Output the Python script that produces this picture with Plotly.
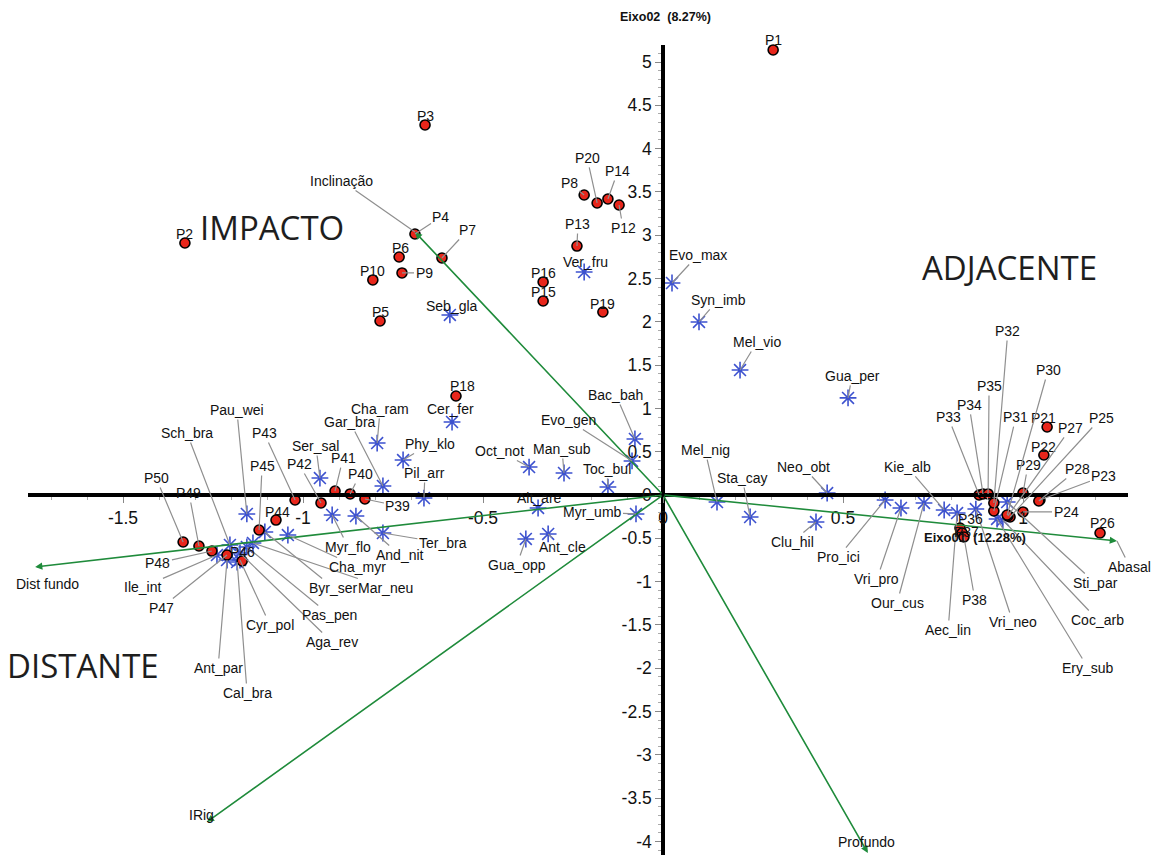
import plotly.graph_objects as go

# ---------------- data (ordination scores) ----------------
site_names = ["P1","P2","P3","P4","P5","P6","P7","P8","P9","P10","P12","P13","P14","P15","P16",
              "P18","P19","P20","P21","P22","P23","P24","P25","P26","P27","P28","P29","P30",
              "P31","P32","P33","P34","P35","P36","P37","P38","P39","P40","P41","P42","P43",
              "P44","P45","P46","P47","P48","P49","P50"]
site_x = [0.306,-1.328,-0.661,-0.689,-0.786,-0.733,-0.614,-0.219,-0.725,-0.806,-0.122,-0.239,-0.153,-0.333,-0.333,
          -0.575,-0.167,-0.183,1.067,1.058,1.047,1.000,0.964,1.214,0.958,1.044,1.000,0.956,
          0.919,0.919,0.878,0.889,0.903,0.825,0.831,0.836,-0.828,-0.869,-0.911,-0.950,-1.022,
          -1.075,-1.122,-1.169,-1.211,-1.253,-1.289,-1.333]
site_y = [5.139,2.910,4.273,3.014,2.009,2.748,2.737,3.464,2.564,2.483,3.349,2.875,3.418,2.240,2.460,
          1.143,2.113,3.372,0.785,0.462,-0.058,-0.196,-0.254,-0.439,-0.242,-0.069,0.023,-0.231,
          -0.185,-0.092,0.000,0.012,0.012,-0.381,-0.439,-0.485,-0.046,0.012,0.046,-0.092,-0.058,
          -0.289,-0.404,-0.762,-0.693,-0.647,-0.589,-0.543]

species_names = ["Seb_gla","Ver_fru","Evo_max","Syn_imb","Mel_vio","Gua_per","Cer_fer","Bac_bah","Evo_gen",
                 "Oct_not","Man_sub","Toc_bul","Alt_are","Myr_umb","Gua_opp","Ant_cle","Mel_nig","Sta_cay",
                 "Neo_obt","Clu_hil","Pro_ici","Vri_pro","Our_cus","Kie_alb","Aec_lin","Vri_neo","Sti_par",
                 "Coc_arb","Ery_sub","Pau_wei","Sch_bra","Ile_int","Ant_par","Cal_bra","Cyr_pol","Aga_rev",
                 "Pas_pen","Mar_neu","Byr_ser","Cha_myr","Myr_flo","And_nit","Ter_bra","Ser_sal","Gar_bra",
                 "Cha_ram","Phy_klo","Pil_arr"]
species_x = [-0.592,-0.219,0.025,0.100,0.214,0.514,-0.586,-0.078,-0.086,
             -0.372,-0.275,-0.153,-0.347,-0.075,-0.381,-0.319,0.150,0.242,
             0.456,0.425,0.617,0.661,0.725,0.781,0.817,0.869,0.956,
             0.944,0.928,-1.156,-1.203,-1.239,-1.211,-1.183,-1.175,-1.175,
             -1.156,-1.139,-1.106,-1.042,-0.919,-0.853,-0.778,-0.953,-0.778,
             -0.794,-0.722,-0.664]
species_y = [2.079,2.575,2.448,1.998,1.443,1.121,0.843,0.647,0.393,
             0.323,0.254,0.092,-0.150,-0.219,-0.508,-0.450,-0.081,-0.254,
             0.023,-0.312,-0.058,-0.150,-0.092,-0.173,-0.208,-0.162,-0.081,
             -0.289,-0.277,-0.219,-0.577,-0.693,-0.751,-0.774,-0.751,-0.670,
             -0.600,-0.554,-0.427,-0.462,-0.231,-0.243,-0.439,0.196,0.104,
             0.600,0.404,-0.035]

env_names = ["Inclinação","Dist fundo","IRig","Profundo","Abasal"]
env_x = [-0.689,-1.744,-1.267,0.569,1.261]
env_y = [3.037,-0.831,-3.776,-4.134,-0.531]

x_tick_vals = [-1.5,-1,-0.5,0,0.5,1]
x_tick_text = ["-1.5","-1","-0.5","0","0.5","1"]
y_tick_vals = [-4,-3.5,-3,-2.5,-2,-1.5,-1,-0.5,0,0.5,1,1.5,2,2.5,3,3.5,4,4.5,5]
y_tick_text = ["-4","-3.5","-3","-2.5","-2","-1.5","-1","-0.5","0","0.5","1","1.5","2","2.5","3","3.5","4","4.5","5"]

x_title = "Eixo01  (12.28%)"
y_title = "Eixo02  (8.27%)"
group_labels = ["IMPACTO", "ADJACENTE", "DISTANTE"]

# ---------------- layout (label offsets in pixels: dx right, dy down) ----------------
site_offsets = {
    "P1":(0,-10),"P2":(0,-9),"P3":(0,-9),"P4":(26,-17),"P5":(0,-9),"P6":(1,-9),"P7":(26,-28),
    "P8":(-15,-12),"P9":(22,0),"P10":(0,-9),"P12":(4,23),"P13":(1,-22),"P14":(10,-28),"P15":(0,-9),
    "P16":(0,-9),"P18":(6,-10),"P19":(0,-8),"P20":(-10,-45),"P21":(-4,-9),"P22":(0,-8),
    "P23":(64,-24),"P24":(43,0),"P25":(91,-99),"P26":(2,-10),"P27":(63,-88),"P28":(39,-32),
    "P29":(5,-28),"P30":(41,-145),"P31":(22,-94),"P32":(14,-172),"P33":(-31,-78),"P34":(-14,-89),
    "P35":(1,-108),"P36":(10,-9),"P37":(4,-1),"P38":(11,63),"P39":(33,7),"P40":(10,-20),
    "P41":(8,-33),"P42":(-22,-39),"P43":(-31,-67),"P44":(1,-8),"P45":(3,-64),"P46":(0,-9),
    "P47":(-66,53),"P48":(-54,12),"P49":(-10,-53),"P50":(-27,-64),
}
species_offsets = {
    "Seb_gla":(2,-9),"Ver_fru":(1,-10),"Evo_max":(26,-28),"Syn_imb":(19,-22),"Mel_vio":(17,-28),
    "Gua_per":(4,-22),"Cer_fer":(-2,-13),"Bac_bah":(-19,-44),"Evo_gen":(-64,-41),"Oct_not":(-30,-16),
    "Man_sub":(-2,-24),"Toc_bul":(-1,-18),"Alt_are":(1,-10),"Myr_umb":(-44,-2),"Gua_opp":(-9,26),
    "Ant_cle":(14,13),"Mel_nig":(-12,-52),"Sta_cay":(-8,-39),"Neo_obt":(-24,-26),"Clu_hil":(-24,20),
    "Pro_ici":(-47,57),"Vri_pro":(-24,71),"Our_cus":(-27,100),"Kie_alb":(-37,-43),"Aec_lin":(-9,117),
    "Vri_neo":(37,113),"Sti_par":(88,81),"Coc_arb":(95,100),"Ery_sub":(91,149),"Pau_wei":(-10,-104),
    "Sch_bra":(-43,-112),"Ile_int":(-74,32),"Ant_par":(-9,108),"Cal_bra":(10,131),"Cyr_pol":(30,65),
    "Aga_rev":(92,89),"Pas_pen":(83,68),"Mar_neu":(133,45),"Byr_ser":(69,56),"Cha_myr":(70,32),
    "Myr_flo":(16,32),"And_nit":(44,39),"Ter_bra":(60,10),"Ser_sal":(-4,-32),"Gar_bra":(-33,-64),
    "Cha_ram":(3,-34),"Phy_klo":(27,-16),"Pil_arr":(1,-25),
}
env_offsets = {"Inclinação":(-73,-51,True),"Dist fundo":(12,17,False),"IRig":(-5,-7,False),
               "Profundo":(-1,-11,False),"Abasal":(13,26,True)}
group_pos = [(272, 228), (1009, 268), (83, 665)]

W, H = 1165, 855
X0, X1 = 28, 1128           # pixel extent of horizontal axis line
Y0, Y1 = 45, 855            # pixel extent of vertical axis line
OX, OY = 663, 495           # pixel of the origin
SX, SY = 360.0, 86.6        # pixels per unit

FONT = "Liberation Sans, Arial, sans-serif"
LEADER = "#8f8f8f"
GREEN = "#1f8b3b"
RED = "#e8261b"
BLUE = "#3d52cf"
TXT = "#111111"
LBL = 14

fig = go.Figure()

fig.add_trace(go.Scatter(
    x=species_x, y=species_y, mode="markers", cliponaxis=False, hoverinfo="text", text=species_names,
    marker=dict(symbol="asterisk-open", size=14, color=BLUE, line=dict(color=BLUE, width=1.6)),
    showlegend=False))
fig.add_trace(go.Scatter(
    x=site_x, y=site_y, mode="markers", cliponaxis=False, hoverinfo="text", text=site_names,
    marker=dict(symbol="circle", size=10, color=RED, line=dict(color="black", width=1.6)),
    showlegend=False))

annotations = []

def label(name, x, y, dx, dy, arrow=None):
    if arrow is None:
        arrow = (dx * dx + dy * dy) ** 0.5 > 14
    if arrow:
        annotations.append(dict(x=x, y=y, xref="x", yref="y", text=name, showarrow=True,
                                ax=dx, ay=dy, arrowhead=0, arrowwidth=1.2, arrowcolor=LEADER,
                                standoff=0, font=dict(family=FONT, size=LBL, color=TXT)))
    else:
        annotations.append(dict(x=x, y=y, xref="x", yref="y", text=name, showarrow=False,
                                xanchor="center", yanchor="middle",
                                xshift=dx, yshift=-dy, font=dict(family=FONT, size=LBL, color=TXT)))

# environmental arrows
for n, ex, ey in zip(env_names, env_x, env_y):
    annotations.append(dict(x=ex, y=ey, xref="x", yref="y", ax=0, ay=0, axref="x", ayref="y",
                            text="", showarrow=True, arrowhead=2, arrowsize=0.9, arrowwidth=1.6,
                            arrowcolor=GREEN, standoff=0))
for n, ex, ey in zip(env_names, env_x, env_y):
    dx, dy, arr = env_offsets[n]
    label(n, ex, ey, dx, dy, arr)

for n, sx, sy in zip(species_names, species_x, species_y):
    dx, dy = species_offsets[n]
    label(n, sx, sy, dx, dy)
for n, sx, sy in zip(site_names, site_x, site_y):
    dx, dy = site_offsets[n]
    label(n, sx, sy, dx, dy)

# axis titles
annotations.append(dict(x=665 / W, y=1 - 17 / H, xref="paper", yref="paper", text="<b>" + y_title + "</b>",
                        xanchor="center", yanchor="middle",
                        showarrow=False, font=dict(family=FONT, size=12.5, color=TXT)))
annotations.append(dict(x=975 / W, y=1 - 537 / H, xref="paper", yref="paper", text="<b>" + x_title + "</b>",
                        xanchor="center", yanchor="middle",
                        showarrow=False, font=dict(family=FONT, size=13, color=TXT)))

# group labels
for txt, (px, py) in zip(group_labels, group_pos):
    annotations.append(dict(x=px / W, y=1 - py / H, xref="paper", yref="paper", text=txt, showarrow=False,
                            xanchor="center", yanchor="middle",
                            font=dict(family="Open Sans, Noto Sans, sans-serif", size=33, color="#1e1e1e")))

xr = [(X0 - OX) / SX, (X1 - OX) / SX]
yr = [(OY - Y1) / SY, (OY - Y0) / SY]

fig.update_layout(
    width=W, height=H, margin=dict(l=0, r=0, t=0, b=0),
    paper_bgcolor="white", plot_bgcolor="white",
    annotations=annotations,
    xaxis=dict(domain=[X0 / W, X1 / W], range=xr, anchor="free", position=1 - OY / H,
               showline=True, linewidth=3.5, linecolor="black", showgrid=False, zeroline=False,
               tickvals=x_tick_vals, ticktext=x_tick_text, ticks="outside", ticklen=6, tickwidth=1,
               tickcolor="#888888", tickfont=dict(family=FONT, size=17.5, color=TXT),
               minor=dict(ticks="outside", ticklen=3, tickcolor="#aaaaaa", dtick=0.1, showgrid=False)),
    yaxis=dict(domain=[0, 1 - Y0 / H], range=yr, anchor="free", position=OX / W,
               showline=True, linewidth=3.5, linecolor="black", showgrid=False, zeroline=False,
               tickvals=y_tick_vals, ticktext=y_tick_text, ticks="outside", ticklen=6, tickwidth=1,
               tickcolor="#888888", tickfont=dict(family=FONT, size=17.5, color=TXT),
               minor=dict(ticks="outside", ticklen=3, tickcolor="#aaaaaa", dtick=0.1, showgrid=False)),
)

fig.write_html("out.html")
